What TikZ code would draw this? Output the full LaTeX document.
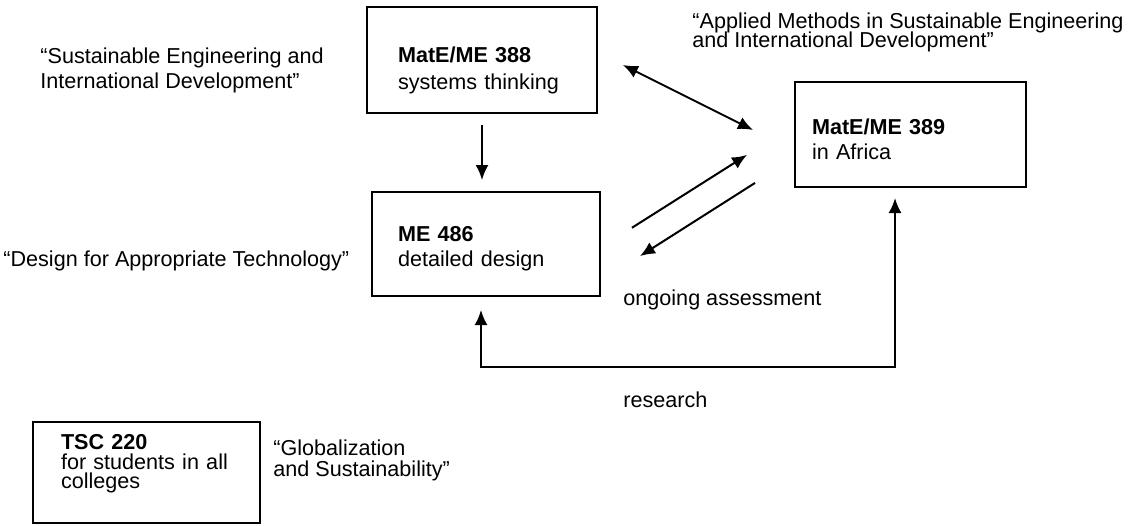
\documentclass[tikz,border=0pt]{standalone}
\usepackage{fontspec}
\setmainfont{Liberation Sans}
\usetikzlibrary{arrows.meta,calc}

\newcommand{\sizedfont}[1]{\fontsize{10.8}{#1}\selectfont\lineskiplimit=-5pt}

\tikzset{
  course/.style={draw, line width=1pt, align=left, inner ysep=0pt, outer sep=0pt, anchor=north west},
  quote/.style={align=left, inner sep=0pt, anchor=north west},
  link/.style={line width=1pt, -{Latex[length=7.5pt,width=6.5pt]}},
  twoway/.style={line width=1pt, {Latex[length=7.5pt,width=6.5pt]}-{Latex[length=7.5pt,width=6.5pt]}},
}

\begin{document}
\begin{tikzpicture}[x=0.5pt, y=-0.5pt]
\useasboundingbox (0,0) rectangle (1143,525);

\node[course, inner xsep=15.5pt, text width=84pt, text height=27.85pt, text depth=25.15pt, font=\sizedfont{13.5pt}] (m388) at (367,7) {\textbf{MatE/ME 388}\\systems thinking};
\node[course, inner xsep=13pt, text width=88pt, text height=24.85pt, text depth=27.15pt, font=\sizedfont{12.5pt}] (m486) at (372,192) {\textbf{ME 486}\\detailed design};
\node[course, inner xsep=8.5pt, text width=98.5pt, text height=26.35pt, text depth=26.15pt, font=\sizedfont{12.5pt}] (m389) at (795,82) {\textbf{MatE/ME 389}\\in Africa};
\node[course, inner xsep=14pt, text width=85.5pt, text height=13.85pt, text depth=36.65pt, font=\sizedfont{9.75pt}] (tsc) at (33,422) {\textbf{TSC 220}\\for students in all\\colleges};

\node[quote, font=\sizedfont{12.5pt}] (q388) at (40,47) {“Sustainable Engineering and\\International Development”};
\node[quote, font=\sizedfont{12.5pt}] (q486) at (3,250) {“Design for Appropriate Technology”};
\node[quote, font=\sizedfont{9.8pt}] (q389) at (692,12) {“Applied Methods in Sustainable Engineering\\and International Development”};
\node[quote, font=\sizedfont{10.5pt}] (qtsc) at (273,439) {“Globalization\\and Sustainability”};

\node[anchor=west, inner sep=0pt, font=\sizedfont{12pt}] (assess) at (623,300) {ongoing assessment};
\node[anchor=west, inner sep=0pt, font=\sizedfont{12pt}] (research) at (623,400) {research};

\draw[link, shorten <=6pt, shorten >=6pt] (m388.south) -- (m388.south |- m486.north);
\draw[twoway, shorten <=14.5pt, shorten >=23.5pt] ($(m388.east)+(0,-8)$) -- ($(m389.west)+(0,16.5)$);
\draw[link, shorten <=18.9pt, shorten >=28.4pt] ($(m486.east)+(0,4)$) -- ($(m389.west)+(0,-10)$);
\draw[link, shorten <=23.7pt, shorten >=23.7pt] ($(m389.west)+(0,23)$) -- ($(m486.east)+(0,37.5)$);
\draw[twoway, shorten <=7pt, shorten >=5.5pt] ($(m486.south)+(-5,0)$) -- ++(0,71) -| ($(m389.south)+(-15.5,0)$);
\end{tikzpicture}
\end{document}
